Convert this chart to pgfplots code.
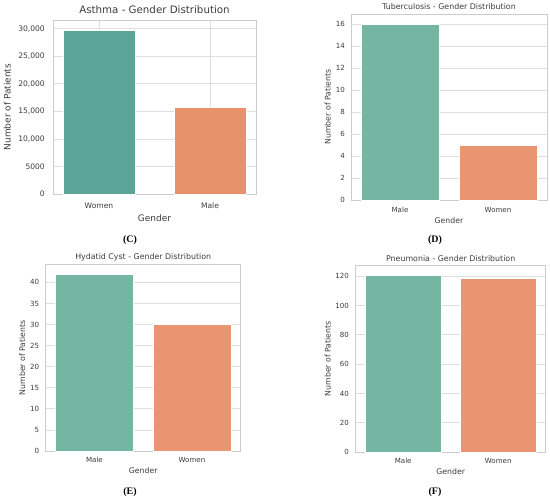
\documentclass[border=0pt]{standalone}
\usepackage{pgfplots}
\pgfplotsset{compat=1.18}
\usepackage{fontspec}
\setmainfont{DejaVu Sans}
\newfontfamily\serifpanel{Liberation Serif}
\definecolor{txt}{RGB}{60,60,60}
\definecolor{frame}{RGB}{204,204,204}
\definecolor{gridc}{RGB}{222,222,222}
\definecolor{tealC}{RGB}{91,164,151}
\definecolor{orangeC}{RGB}{231,146,107}
\definecolor{teal}{RGB}{116,182,162}
\definecolor{orange}{RGB}{233,149,113}
\pgfplotsset{
  panel/.style={
    scale only axis, ybar, ymin=0,
    xtick={0,1}, major tick length=0pt,
    scaled y ticks=false,
    /pgf/number format/assume math mode=true,
    axis line style={draw=frame, line width=0.8bp},
    ymajorgrids, grid style={draw=gridc, line width=0.8bp},
    every tick label/.append style={text=txt},
    label style={text=txt},
    title style={text=txt},
    xmin=-0.5, xmax=1.5,
  },
  smallfonts/.style={
    tick label style={font=\fontsize{7.1}{8}\selectfont},
    label style={font=\fontsize{7.8}{9}\selectfont},
    title style={font=\fontsize{7.9}{9}\selectfont},
  },
}
\begin{document}
\begin{tikzpicture}
\path[use as bounding box] (0,0) rectangle (550bp,-501bp);
% (C) Asthma
\begin{axis}[panel,
  at={(53bp,-194bp)}, anchor=south west,
  width=203bp, height=174bp,
  xmin=-0.414, xmax=1.414, ymax=31600,
  xmajorgrids,
  bar width=0.65,
  xticklabels={Women,Male},
  ytick={0,5000,10000,15000,20000,25000,30000},
  yticklabels={0,5000,{10,000},{15,000},{20,000},{25,000},{30,000}},
  tick label style={font=\fontsize{7.6}{9}\selectfont},
  label style={font=\fontsize{9}{11}\selectfont},
  title style={font=\fontsize{10.3}{12}\selectfont},
  title={Asthma - Gender Distribution},
  title style={at={(0.5,1)}, anchor=center, yshift=4bp},
  xlabel={Gender}, xlabel style={at={(0.5,0)}, anchor=center, yshift=-24.3bp},
  ylabel={Number of Patients}, ylabel style={at={(0,0.5)}, anchor=center, yshift=45.7bp},
  yticklabel style={anchor=east, inner sep=0pt, xshift=-8bp},
  xticklabel style={anchor=center, inner sep=0pt, yshift=-11.7bp},
]
\addplot[fill=tealC, draw=white, bar shift=0pt] coordinates {(0,29700)};
\addplot[fill=orangeC, draw=white, bar shift=0pt] coordinates {(1,15800)};
\end{axis}
% (D) Tuberculosis
\begin{axis}[panel, smallfonts,
  at={(351bp,-200bp)}, anchor=south west,
  width=196bp, height=186bp,
  ymax=16.9, bar width=0.8,
  xticklabels={Male,Women},
  ytick={0,2,...,16},
  title={Tuberculosis - Gender Distribution},
  title style={at={(0.5,1)}, anchor=center, yshift=1.3bp},
  xlabel={Gender}, xlabel style={at={(0.5,0)}, anchor=center, yshift=-20.3bp},
  ylabel={Number of Patients}, ylabel style={at={(0,0.5)}, anchor=center, yshift=23.3bp},
  yticklabel style={anchor=east, inner sep=0pt, xshift=-6bp},
  xticklabel style={anchor=center, inner sep=0pt, yshift=-10bp},
]
\addplot[fill=teal, draw=white, bar shift=0pt] coordinates {(0,16)};
\addplot[fill=orange, draw=white, bar shift=0pt] coordinates {(1,5)};
\end{axis}
% (E) Hydatid Cyst
\begin{axis}[panel, smallfonts,
  at={(45.7bp,-451bp)}, anchor=south west,
  width=195bp, height=186.3bp,
  ymax=44.2, bar width=0.8,
  xticklabels={Male,Women},
  ytick={0,5,...,40},
  title={Hydatid Cyst - Gender Distribution},
  title style={at={(0.5,1)}, anchor=center, yshift=1.4bp},
  xlabel={Gender}, xlabel style={at={(0.5,0)}, anchor=center, yshift=-19.7bp},
  ylabel={Number of Patients}, ylabel style={at={(0,0.5)}, anchor=center, yshift=23.4bp},
  yticklabel style={anchor=east, inner sep=0pt, xshift=-6.4bp},
  xticklabel style={anchor=center, inner sep=0pt, yshift=-9.3bp},
]
\addplot[fill=teal, draw=white, bar shift=0pt] coordinates {(0,42)};
\addplot[fill=orange, draw=white, bar shift=0pt] coordinates {(1,30)};
\end{axis}
% (F) Pneumonia
\begin{axis}[panel, smallfonts,
  at={(355.7bp,-452bp)}, anchor=south west,
  width=190bp, height=186.7bp,
  ymax=127.5, bar width=0.8,
  xticklabels={Male,Women},
  ytick={0,20,...,120},
  title={Pneumonia - Gender Distribution},
  title style={at={(0.5,1)}, anchor=center, yshift=0.6bp},
  xlabel={Gender}, xlabel style={at={(0.5,0)}, anchor=center, yshift=-20bp},
  ylabel={Number of Patients}, ylabel style={at={(0,0.5)}, anchor=center, yshift=28bp},
  yticklabel style={anchor=east, inner sep=0pt, xshift=-6.7bp},
  xticklabel style={anchor=center, inner sep=0pt, yshift=-9.3bp},
]
\addplot[fill=teal, draw=white, bar shift=0pt] coordinates {(0,121)};
\addplot[fill=orange, draw=white, bar shift=0pt] coordinates {(1,119)};
\end{axis}
% panel letters
\node[font=\serifpanel\bfseries\fontsize{10}{12}\selectfont] at (130bp,-240bp) {(C)};
\node[font=\serifpanel\bfseries\fontsize{10}{12}\selectfont] at (435bp,-240bp) {(D)};
\node[font=\serifpanel\bfseries\fontsize{10}{12}\selectfont] at (130bp,-492bp) {(E)};
\node[font=\serifpanel\bfseries\fontsize{10}{12}\selectfont] at (435bp,-492bp) {(F)};
\end{tikzpicture}
\end{document}
